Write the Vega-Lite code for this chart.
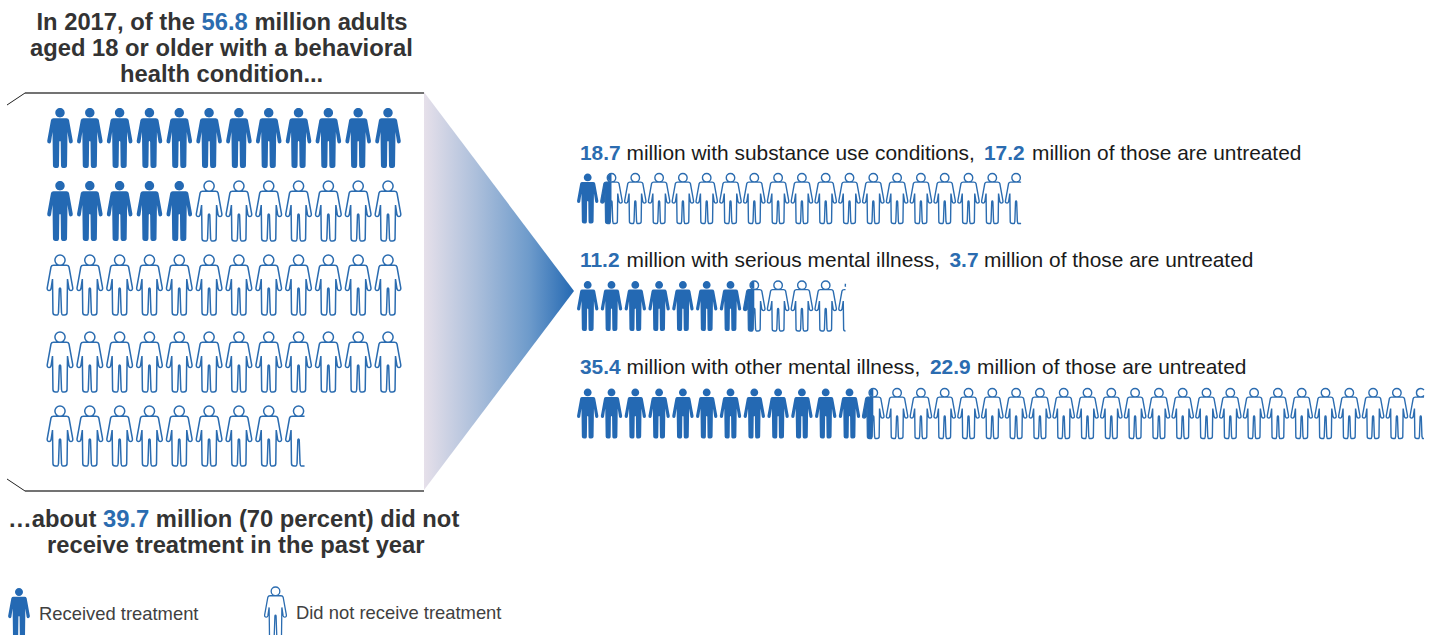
{"$schema":"https://vega.github.io/schema/vega-lite/v6.json","width":1440,"height":635,"padding":0,"autosize":{"type":"none"},"background":"white","config":{"view":{"stroke":null},"style":{"head":{"font":"Liberation Sans","fontWeight":"bold","fontSize":23.75,"color":"#333333","align":"left","baseline":"alphabetic"},"headEm":{"font":"Liberation Sans","fontWeight":"bold","fontSize":23.75,"color":"#2B6CB0","align":"left","baseline":"alphabetic"},"body":{"font":"Liberation Sans","fontSize":20.9,"color":"#1a1a1a","align":"left","baseline":"alphabetic"},"bodyEm":{"font":"Liberation Sans","fontWeight":"bold","fontSize":20.9,"color":"#2B6CB0","align":"left","baseline":"alphabetic"},"key":{"font":"Liberation Sans","fontSize":18.4,"color":"#404040","align":"left","baseline":"alphabetic"}}},"datasets":{"left":[{"row":0,"col":0,"status":"Received"},{"row":0,"col":1,"status":"Received"},{"row":0,"col":2,"status":"Received"},{"row":0,"col":3,"status":"Received"},{"row":0,"col":4,"status":"Received"},{"row":0,"col":5,"status":"Received"},{"row":0,"col":6,"status":"Received"},{"row":0,"col":7,"status":"Received"},{"row":0,"col":8,"status":"Received"},{"row":0,"col":9,"status":"Received"},{"row":0,"col":10,"status":"Received"},{"row":0,"col":11,"status":"Received"},{"row":1,"col":0,"status":"Received"},{"row":1,"col":1,"status":"Received"},{"row":1,"col":2,"status":"Received"},{"row":1,"col":3,"status":"Received"},{"row":1,"col":4,"status":"Received"},{"row":1,"col":5,"status":"Untreated"},{"row":1,"col":6,"status":"Untreated"},{"row":1,"col":7,"status":"Untreated"},{"row":1,"col":8,"status":"Untreated"},{"row":1,"col":9,"status":"Untreated"},{"row":1,"col":10,"status":"Untreated"},{"row":1,"col":11,"status":"Untreated"},{"row":2,"col":0,"status":"Untreated"},{"row":2,"col":1,"status":"Untreated"},{"row":2,"col":2,"status":"Untreated"},{"row":2,"col":3,"status":"Untreated"},{"row":2,"col":4,"status":"Untreated"},{"row":2,"col":5,"status":"Untreated"},{"row":2,"col":6,"status":"Untreated"},{"row":2,"col":7,"status":"Untreated"},{"row":2,"col":8,"status":"Untreated"},{"row":2,"col":9,"status":"Untreated"},{"row":2,"col":10,"status":"Untreated"},{"row":2,"col":11,"status":"Untreated"},{"row":3,"col":0,"status":"Untreated"},{"row":3,"col":1,"status":"Untreated"},{"row":3,"col":2,"status":"Untreated"},{"row":3,"col":3,"status":"Untreated"},{"row":3,"col":4,"status":"Untreated"},{"row":3,"col":5,"status":"Untreated"},{"row":3,"col":6,"status":"Untreated"},{"row":3,"col":7,"status":"Untreated"},{"row":3,"col":8,"status":"Untreated"},{"row":3,"col":9,"status":"Untreated"},{"row":3,"col":10,"status":"Untreated"},{"row":3,"col":11,"status":"Untreated"},{"row":4,"col":0,"status":"Untreated"},{"row":4,"col":1,"status":"Untreated"},{"row":4,"col":2,"status":"Untreated"},{"row":4,"col":3,"status":"Untreated"},{"row":4,"col":4,"status":"Untreated"},{"row":4,"col":5,"status":"Untreated"},{"row":4,"col":6,"status":"Untreated"},{"row":4,"col":7,"status":"Untreated"},{"row":4,"col":8,"status":"Part 0.8"}],"right":[{"row":0,"col":0,"status":"Received"},{"row":0,"col":1,"status":"Split"},{"row":0,"col":2,"status":"Untreated"},{"row":0,"col":3,"status":"Untreated"},{"row":0,"col":4,"status":"Untreated"},{"row":0,"col":5,"status":"Untreated"},{"row":0,"col":6,"status":"Untreated"},{"row":0,"col":7,"status":"Untreated"},{"row":0,"col":8,"status":"Untreated"},{"row":0,"col":9,"status":"Untreated"},{"row":0,"col":10,"status":"Untreated"},{"row":0,"col":11,"status":"Untreated"},{"row":0,"col":12,"status":"Untreated"},{"row":0,"col":13,"status":"Untreated"},{"row":0,"col":14,"status":"Untreated"},{"row":0,"col":15,"status":"Untreated"},{"row":0,"col":16,"status":"Untreated"},{"row":0,"col":17,"status":"Untreated"},{"row":0,"col":18,"status":"Part 0.7"},{"row":1,"col":0,"status":"Received"},{"row":1,"col":1,"status":"Received"},{"row":1,"col":2,"status":"Received"},{"row":1,"col":3,"status":"Received"},{"row":1,"col":4,"status":"Received"},{"row":1,"col":5,"status":"Received"},{"row":1,"col":6,"status":"Received"},{"row":1,"col":7,"status":"Split"},{"row":1,"col":8,"status":"Untreated"},{"row":1,"col":9,"status":"Untreated"},{"row":1,"col":10,"status":"Untreated"},{"row":1,"col":11,"status":"Part 0.2"},{"row":2,"col":0,"status":"Received"},{"row":2,"col":1,"status":"Received"},{"row":2,"col":2,"status":"Received"},{"row":2,"col":3,"status":"Received"},{"row":2,"col":4,"status":"Received"},{"row":2,"col":5,"status":"Received"},{"row":2,"col":6,"status":"Received"},{"row":2,"col":7,"status":"Received"},{"row":2,"col":8,"status":"Received"},{"row":2,"col":9,"status":"Received"},{"row":2,"col":10,"status":"Received"},{"row":2,"col":11,"status":"Received"},{"row":2,"col":12,"status":"Split"},{"row":2,"col":13,"status":"Untreated"},{"row":2,"col":14,"status":"Untreated"},{"row":2,"col":15,"status":"Untreated"},{"row":2,"col":16,"status":"Untreated"},{"row":2,"col":17,"status":"Untreated"},{"row":2,"col":18,"status":"Untreated"},{"row":2,"col":19,"status":"Untreated"},{"row":2,"col":20,"status":"Untreated"},{"row":2,"col":21,"status":"Untreated"},{"row":2,"col":22,"status":"Untreated"},{"row":2,"col":23,"status":"Untreated"},{"row":2,"col":24,"status":"Untreated"},{"row":2,"col":25,"status":"Untreated"},{"row":2,"col":26,"status":"Untreated"},{"row":2,"col":27,"status":"Untreated"},{"row":2,"col":28,"status":"Untreated"},{"row":2,"col":29,"status":"Untreated"},{"row":2,"col":30,"status":"Untreated"},{"row":2,"col":31,"status":"Untreated"},{"row":2,"col":32,"status":"Untreated"},{"row":2,"col":33,"status":"Untreated"},{"row":2,"col":34,"status":"Untreated"},{"row":2,"col":35,"status":"Part 0.4"}]},"resolve":{"scale":{"x":"independent","y":"independent","shape":"independent"}},"layer":[{"layer":[{"data":{"values":[{"span":424,"upper":92,"lower":490},{"span":574,"upper":291,"lower":291}]},"mark":{"type":"area","orient":"vertical","color":{"gradient":"linear","x1":0,"x2":1,"y1":0,"y2":0,"stops":[{"offset":0,"color":"#E6E0EA"},{"offset":0.35,"color":"#ACBFDB"},{"offset":0.7,"color":"#6E9BCB"},{"offset":1,"color":"#2469B3"}]}},"encoding":{"x":{"field":"span","type":"quantitative","scale":{"domain":[0,1440],"range":[0,1440],"nice":false,"zero":false},"axis":null},"y":{"field":"upper","type":"quantitative","scale":{"domain":[0,635],"range":[0,635],"nice":false,"zero":false},"axis":null},"y2":{"field":"lower"}}},{"data":{"values":[{"edge":"top","span":25,"level":93},{"edge":"top","span":424,"level":93},{"edge":"bottom","span":25,"level":491},{"edge":"bottom","span":424,"level":491}]},"mark":{"type":"line","color":"#444444","strokeWidth":1.5},"encoding":{"x":{"field":"span","type":"quantitative"},"y":{"field":"level","type":"quantitative"},"detail":{"field":"edge"}}},{"data":{"values":[{"edge":"top","span":7,"level":105},{"edge":"top","span":25,"level":93},{"edge":"bottom","span":7,"level":479},{"edge":"bottom","span":25,"level":491}]},"mark":{"type":"line","color":"#222222","strokeWidth":1},"encoding":{"x":{"field":"span","type":"quantitative"},"y":{"field":"level","type":"quantitative"},"detail":{"field":"edge"}}},{"data":{"values":[{"text":"In 2017, of the"}]},"mark":{"type":"text","style":"head"},"encoding":{"text":{"field":"text"},"x":{"datum":36.5,"type":"quantitative"},"y":{"datum":30,"type":"quantitative"}}},{"data":{"values":[{"text":"56.8"}]},"mark":{"type":"text","style":"headEm"},"encoding":{"text":{"field":"text"},"x":{"datum":201.5,"type":"quantitative"},"y":{"datum":30,"type":"quantitative"}}},{"data":{"values":[{"text":"million adults"}]},"mark":{"type":"text","style":"head"},"encoding":{"text":{"field":"text"},"x":{"datum":254.5,"type":"quantitative"},"y":{"datum":30,"type":"quantitative"}}},{"data":{"values":[{"text":"aged 18 or older with a behavioral"}]},"mark":{"type":"text","style":"head"},"encoding":{"text":{"field":"text"},"x":{"datum":30,"type":"quantitative"},"y":{"datum":56,"type":"quantitative"}}},{"data":{"values":[{"text":"health condition..."}]},"mark":{"type":"text","style":"head"},"encoding":{"text":{"field":"text"},"x":{"datum":120,"type":"quantitative"},"y":{"datum":82,"type":"quantitative"}}},{"data":{"values":[{"text":"…about"}]},"mark":{"type":"text","style":"head"},"encoding":{"text":{"field":"text"},"x":{"datum":8,"type":"quantitative"},"y":{"datum":527,"type":"quantitative"}}},{"data":{"values":[{"text":"39.7"}]},"mark":{"type":"text","style":"headEm"},"encoding":{"text":{"field":"text"},"x":{"datum":103,"type":"quantitative"},"y":{"datum":527,"type":"quantitative"}}},{"data":{"values":[{"text":"million (70 percent) did not"}]},"mark":{"type":"text","style":"head"},"encoding":{"text":{"field":"text"},"x":{"datum":155.8,"type":"quantitative"},"y":{"datum":527,"type":"quantitative"}}},{"data":{"values":[{"text":"receive treatment in the past year"}]},"mark":{"type":"text","style":"head"},"encoding":{"text":{"field":"text"},"x":{"datum":47,"type":"quantitative"},"y":{"datum":553,"type":"quantitative"}}},{"data":{"values":[{"text":"18.7"}]},"mark":{"type":"text","style":"bodyEm"},"encoding":{"text":{"field":"text"},"x":{"datum":580,"type":"quantitative"},"y":{"datum":160,"type":"quantitative"}}},{"data":{"values":[{"text":"million with substance use conditions,"}]},"mark":{"type":"text","style":"body"},"encoding":{"text":{"field":"text"},"x":{"datum":626.5,"type":"quantitative"},"y":{"datum":160,"type":"quantitative"}}},{"data":{"values":[{"text":"17.2"}]},"mark":{"type":"text","style":"bodyEm"},"encoding":{"text":{"field":"text"},"x":{"datum":984,"type":"quantitative"},"y":{"datum":160,"type":"quantitative"}}},{"data":{"values":[{"text":"million of those are untreated"}]},"mark":{"type":"text","style":"body"},"encoding":{"text":{"field":"text"},"x":{"datum":1032,"type":"quantitative"},"y":{"datum":160,"type":"quantitative"}}},{"data":{"values":[{"text":"11.2"}]},"mark":{"type":"text","style":"bodyEm"},"encoding":{"text":{"field":"text"},"x":{"datum":580,"type":"quantitative"},"y":{"datum":267,"type":"quantitative"}}},{"data":{"values":[{"text":"million with serious mental illness,"}]},"mark":{"type":"text","style":"body"},"encoding":{"text":{"field":"text"},"x":{"datum":626.5,"type":"quantitative"},"y":{"datum":267,"type":"quantitative"}}},{"data":{"values":[{"text":"3.7"}]},"mark":{"type":"text","style":"bodyEm"},"encoding":{"text":{"field":"text"},"x":{"datum":949.5,"type":"quantitative"},"y":{"datum":267,"type":"quantitative"}}},{"data":{"values":[{"text":"million of those are untreated"}]},"mark":{"type":"text","style":"body"},"encoding":{"text":{"field":"text"},"x":{"datum":984,"type":"quantitative"},"y":{"datum":267,"type":"quantitative"}}},{"data":{"values":[{"text":"35.4"}]},"mark":{"type":"text","style":"bodyEm"},"encoding":{"text":{"field":"text"},"x":{"datum":580,"type":"quantitative"},"y":{"datum":374,"type":"quantitative"}}},{"data":{"values":[{"text":"million with other mental illness,"}]},"mark":{"type":"text","style":"body"},"encoding":{"text":{"field":"text"},"x":{"datum":626.5,"type":"quantitative"},"y":{"datum":374,"type":"quantitative"}}},{"data":{"values":[{"text":"22.9"}]},"mark":{"type":"text","style":"bodyEm"},"encoding":{"text":{"field":"text"},"x":{"datum":930,"type":"quantitative"},"y":{"datum":374,"type":"quantitative"}}},{"data":{"values":[{"text":"million of those are untreated"}]},"mark":{"type":"text","style":"body"},"encoding":{"text":{"field":"text"},"x":{"datum":977,"type":"quantitative"},"y":{"datum":374,"type":"quantitative"}}},{"data":{"values":[{"text":"Received treatment"}]},"mark":{"type":"text","style":"key"},"encoding":{"text":{"field":"text"},"x":{"datum":39,"type":"quantitative"},"y":{"datum":620,"type":"quantitative"}}},{"data":{"values":[{"text":"Did not receive treatment"}]},"mark":{"type":"text","style":"key"},"encoding":{"text":{"field":"text"},"x":{"datum":296,"type":"quantitative"},"y":{"datum":619,"type":"quantitative"}}}]},{"data":{"name":"left"},"transform":[{"filter":"datum.status === 'Received'"}],"mark":{"type":"point","filled":true,"opacity":1,"color":"#2469B3","strokeWidth":0},"encoding":{"x":{"field":"col","type":"quantitative","scale":{"domain":[0,11],"range":[60,388],"nice":false,"zero":false},"axis":null},"y":{"field":"row","type":"quantitative","scale":{"domain":[0,1,2,3,4],"range":[138,211,285,362,436],"nice":false,"zero":false},"axis":null},"size":{"value":3600},"shape":{"field":"status","type":"nominal","legend":null,"scale":{"domain":["Received"],"range":["M-.157 -.843A.157 .157 0 1 1 .157 -.843A.157 .157 0 1 1 -.157 -.843ZM0 -.657L.217 -.657Q.283 -.657 .3 -.6L.427 .1Q.433 .183 .36 .183Q.317 .183 .3 .133L.25 -.2L.235 .917Q.235 1 .15 1L.087 1Q.033 1 .033 .917L.023 .133Q.017 .1 0 .1Q-.017 .1 -.023 .133L-.033 .917Q-.033 1 -.087 1L-.15 1Q-.235 1 -.235 .917L-.25 -.2L-.3 .133Q-.317 .183 -.36 .183Q-.433 .183 -.427 .1L-.3 -.6Q-.283 -.657 -.217 -.657Z"]}}}},{"data":{"name":"left"},"transform":[{"filter":"datum.status !== 'Received'"}],"mark":{"type":"point","filled":false,"opacity":1,"color":"#2B6CB0","strokeWidth":1.5},"encoding":{"x":{"field":"col","type":"quantitative","scale":{"domain":[0,11],"range":[60,388],"nice":false,"zero":false},"axis":null},"y":{"field":"row","type":"quantitative","scale":{"domain":[0,1,2,3,4],"range":[138,211,285,362,436],"nice":false,"zero":false},"axis":null},"size":{"value":3600},"shape":{"field":"status","type":"nominal","legend":null,"scale":{"domain":["Untreated","Part 0.8"],"range":["M-.17 -.83A.17 .17 0 1 1 .17 -.83A.17 .17 0 1 1 -.17 -.83ZM0 -.657L.217 -.657Q.283 -.657 .3 -.6L.427 .1Q.433 .183 .36 .183Q.317 .183 .3 .133L.25 -.2L.235 .917Q.235 1 .15 1L.087 1Q.06 1 .05 .917L.023 .133Q.017 .1 0 .1Q-.017 .1 -.023 .133L-.05 .917Q-.06 1 -.087 1L-.15 1Q-.235 1 -.235 .917L-.25 -.2L-.3 .133Q-.317 .183 -.36 .183Q-.433 .183 -.427 .1L-.3 -.6Q-.283 -.657 -.217 -.657Z","M-.17 -.83A.17 .17 0 1 1 .17 -.83A.17 .17 0 1 1 -.17 -.83ZM.2 -.657L-.217 -.657Q-.283 -.657 -.3 -.6L-.427 .1Q-.433 .183 -.36 .183Q-.317 .183 -.3 .133L-.25 -.2L-.235 .917Q-.235 1 -.15 1L-.087 1Q-.06 1 -.05 .917L-.023 .133Q-.017 .1 0 .1Q.017 .1 .023 .133L.05 .917Q.06 1 .087 1L.2 1"]}}}},{"data":{"name":"right"},"transform":[{"filter":"datum.status === 'Received' || datum.status === 'Split'"}],"mark":{"type":"point","filled":true,"opacity":1,"color":"#2469B3","strokeWidth":0},"encoding":{"x":{"field":"col","type":"quantitative","scale":{"domain":[0,18],"range":[587.7,1016.1],"nice":false,"zero":false},"axis":null},"y":{"field":"row","type":"quantitative","scale":{"domain":[0,2],"range":[198.5,413.5],"nice":false,"zero":false},"axis":null},"size":{"value":2500},"shape":{"field":"status","type":"nominal","legend":null,"scale":{"domain":["Received","Split"],"range":["M-.157 -.843A.157 .157 0 1 1 .157 -.843A.157 .157 0 1 1 -.157 -.843ZM0 -.657L.217 -.657Q.283 -.657 .3 -.6L.427 .1Q.433 .183 .36 .183Q.317 .183 .3 .133L.25 -.2L.235 .917Q.235 1 .15 1L.087 1Q.033 1 .033 .917L.023 .133Q.017 .1 0 .1Q-.017 .1 -.023 .133L-.033 .917Q-.033 1 -.087 1L-.15 1Q-.235 1 -.235 .917L-.25 -.2L-.3 .133Q-.317 .183 -.36 .183Q-.433 .183 -.427 .1L-.3 -.6Q-.283 -.657 -.217 -.657Z","M0 -1A.157 .157 0 0 0 0 -.686ZM0 .1Q-.017 .1 -.023 .133L-.033 .917Q-.033 1 -.087 1L-.15 1Q-.235 1 -.235 .917L-.25 -.2L-.3 .133Q-.317 .183 -.36 .183Q-.433 .183 -.427 .1L-.3 -.6Q-.283 -.657 -.217 -.657L0 -.657Z"]}}}},{"data":{"name":"right"},"transform":[{"filter":"datum.status !== 'Received'"}],"mark":{"type":"point","filled":false,"opacity":1,"color":"#2B6CB0","strokeWidth":1.4},"encoding":{"x":{"field":"col","type":"quantitative","scale":{"domain":[0,18],"range":[587.7,1016.1],"nice":false,"zero":false},"axis":null},"y":{"field":"row","type":"quantitative","scale":{"domain":[0,2],"range":[198.5,413.5],"nice":false,"zero":false},"axis":null},"size":{"value":2500},"shape":{"field":"status","type":"nominal","legend":null,"scale":{"domain":["Untreated","Split","Part 0.7","Part 0.2","Part 0.4"],"range":["M-.17 -.83A.17 .17 0 1 1 .17 -.83A.17 .17 0 1 1 -.17 -.83ZM0 -.657L.217 -.657Q.283 -.657 .3 -.6L.427 .1Q.433 .183 .36 .183Q.317 .183 .3 .133L.25 -.2L.235 .917Q.235 1 .15 1L.087 1Q.06 1 .05 .917L.023 .133Q.017 .1 0 .1Q-.017 .1 -.023 .133L-.05 .917Q-.06 1 -.087 1L-.15 1Q-.235 1 -.235 .917L-.25 -.2L-.3 .133Q-.317 .183 -.36 .183Q-.433 .183 -.427 .1L-.3 -.6Q-.283 -.657 -.217 -.657Z","M-.17 -.83A.17 .17 0 1 1 .17 -.83A.17 .17 0 1 1 -.17 -.83ZM0 -.657L.217 -.657Q.283 -.657 .3 -.6L.427 .1Q.433 .183 .36 .183Q.317 .183 .3 .133L.25 -.2L.235 .917Q.235 1 .15 1L.087 1Q.06 1 .05 .917L.023 .133Q.017 .1 0 .1Q-.017 .1 -.023 .133L-.05 .917Q-.06 1 -.087 1L-.15 1Q-.235 1 -.235 .917L-.25 -.2L-.3 .133Q-.317 .183 -.36 .183Q-.433 .183 -.427 .1L-.3 -.6Q-.283 -.657 -.217 -.657Z","M-.17 -.83A.17 .17 0 1 1 .17 -.83A.17 .17 0 1 1 -.17 -.83ZM.2 -.657L-.217 -.657Q-.283 -.657 -.3 -.6L-.427 .1Q-.433 .183 -.36 .183Q-.317 .183 -.3 .133L-.25 -.2L-.235 .917Q-.235 1 -.15 1L-.087 1Q-.06 1 -.05 .917L-.023 .133Q-.017 .1 0 .1Q.017 .1 .023 .133L.05 .917Q.06 1 .087 1L.2 1","M-.16 -.887A.17 .17 0 0 0 -.16 -.773M-.16 -.657L-.217 -.657Q-.283 -.657 -.3 -.6L-.427 .1Q-.433 .183 -.36 .183Q-.317 .183 -.3 .133L-.25 -.2L-.235 .917Q-.235 1 -.16 1","M.13 -.94A.17 .17 0 1 0 .13 -.72M.13 -.657L-.217 -.657Q-.283 -.657 -.3 -.6L-.427 .1Q-.433 .183 -.36 .183Q-.317 .183 -.3 .133L-.25 -.2L-.235 .917Q-.235 1 -.15 1L-.087 1Q-.06 1 -.05 .917L-.023 .133Q-.017 .1 0 .1Q.017 .1 .023 .133L.05 .917Q.06 1 .087 1L.13 1"]}}}},{"data":{"values":[{"status":"Received treatment"}]},"mark":{"type":"point","filled":true,"opacity":1,"color":"#2469B3","strokeWidth":0},"encoding":{"x":{"datum":19,"type":"quantitative","scale":{"domain":[0,1440],"range":[0,1440],"nice":false,"zero":false},"axis":null},"y":{"datum":613.5,"type":"quantitative","scale":{"domain":[0,635],"range":[0,635],"nice":false,"zero":false},"axis":null},"size":{"value":2600},"shape":{"field":"status","type":"nominal","legend":null,"scale":{"domain":["Received treatment"],"range":["M-.157 -.843A.157 .157 0 1 1 .157 -.843A.157 .157 0 1 1 -.157 -.843ZM0 -.657L.217 -.657Q.283 -.657 .3 -.6L.427 .1Q.433 .183 .36 .183Q.317 .183 .3 .133L.25 -.2L.235 .917Q.235 1 .15 1L.087 1Q.033 1 .033 .917L.023 .133Q.017 .1 0 .1Q-.017 .1 -.023 .133L-.033 .917Q-.033 1 -.087 1L-.15 1Q-.235 1 -.235 .917L-.25 -.2L-.3 .133Q-.317 .183 -.36 .183Q-.433 .183 -.427 .1L-.3 -.6Q-.283 -.657 -.217 -.657Z"]}}}},{"data":{"values":[{"status":"Did not receive treatment"}]},"mark":{"type":"point","filled":false,"opacity":1,"color":"#2B6CB0","strokeWidth":1.3},"encoding":{"x":{"datum":275.5,"type":"quantitative","scale":{"domain":[0,1440],"range":[0,1440],"nice":false,"zero":false},"axis":null},"y":{"datum":612.5,"type":"quantitative","scale":{"domain":[0,635],"range":[0,635],"nice":false,"zero":false},"axis":null},"size":{"value":2600},"shape":{"field":"status","type":"nominal","legend":null,"scale":{"domain":["Did not receive treatment"],"range":["M-.17 -.83A.17 .17 0 1 1 .17 -.83A.17 .17 0 1 1 -.17 -.83ZM0 -.657L.217 -.657Q.283 -.657 .3 -.6L.427 .1Q.433 .183 .36 .183Q.317 .183 .3 .133L.25 -.2L.235 .917Q.235 1 .15 1L.087 1Q.06 1 .05 .917L.023 .133Q.017 .1 0 .1Q-.017 .1 -.023 .133L-.05 .917Q-.06 1 -.087 1L-.15 1Q-.235 1 -.235 .917L-.25 -.2L-.3 .133Q-.317 .183 -.36 .183Q-.433 .183 -.427 .1L-.3 -.6Q-.283 -.657 -.217 -.657Z"]}}}}]}
